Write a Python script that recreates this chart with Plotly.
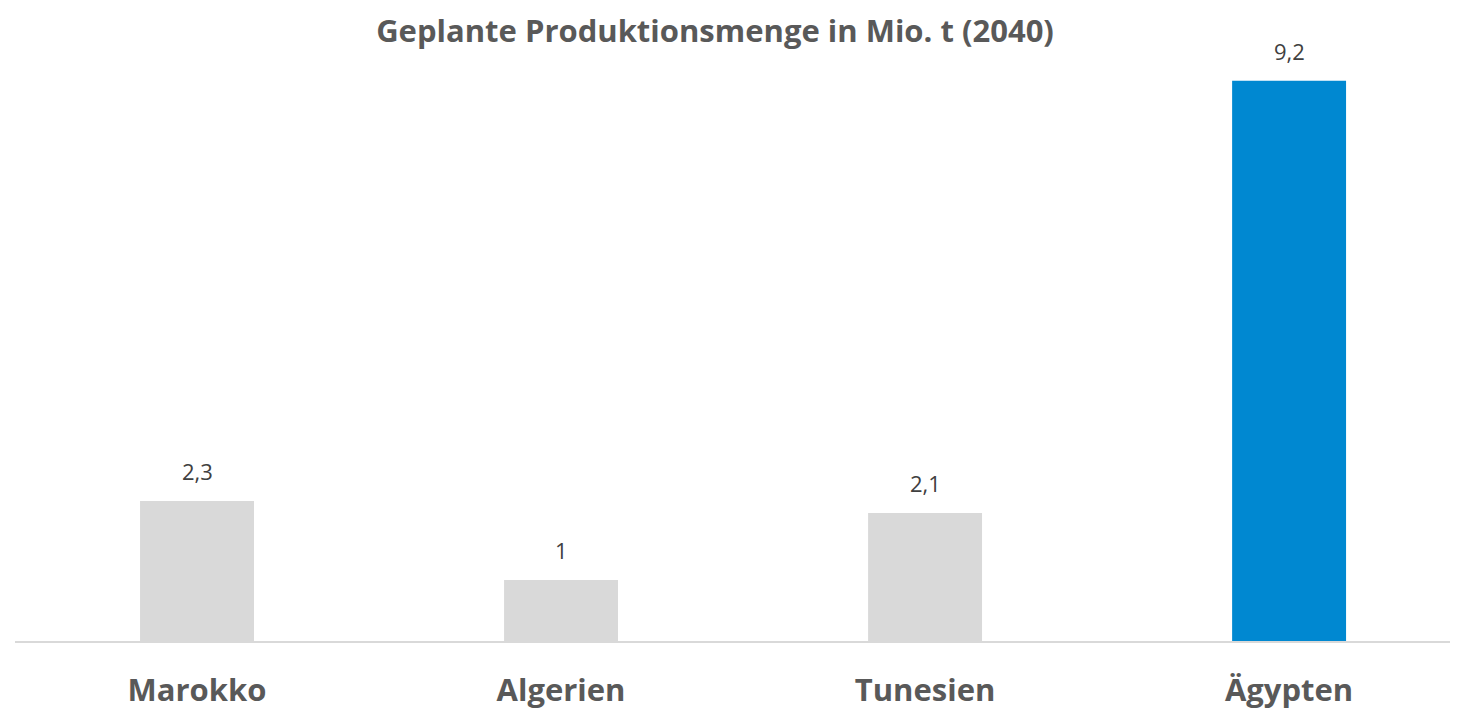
import plotly.graph_objects as go

categories = ["Marokko", "Algerien", "Tunesien", "Ägypten"]
values = [2.3, 1, 2.1, 9.2]
labels = ["2,3", "1", "2,1", "9,2"]
bar_colors = ["#d9d9d9", "#d9d9d9", "#d9d9d9", "#0088d1"]

fig = go.Figure()
fig.add_trace(go.Bar(
    x=categories, y=values, marker=dict(color=bar_colors, line=dict(width=0)),
    hoverinfo="skip",
))
for c, v, t in zip(categories, values, labels):
    fig.add_annotation(x=c, y=v, text=t, showarrow=False, yanchor="bottom",
                       yshift=13, font=dict(family="Open Sans", size=22, color="#404040"))

fig.update_layout(
    width=1450, height=702,
    paper_bgcolor="white", plot_bgcolor="white",
    margin=dict(l=7, r=0, t=24, b=69),
    bargap=0.687,
    showlegend=False,
    title=dict(text="<b>Geplante Produktionsmenge in Mio. t (2040)</b>",
               x=0.4876, xanchor="center", y=0.967, yanchor="middle",
               font=dict(family="Open Sans", size=31, color="#595959")),
    xaxis=dict(range=[-0.5, 3.464], showline=True, linecolor="#d9d9d9", linewidth=2,
               ticks="", showgrid=False, zeroline=False,
               tickfont=dict(family="Open Sans", size=31, color="#595959", weight="bold")),
    yaxis=dict(range=[0, 10], visible=False, showgrid=False, zeroline=False),
    font=dict(family="Open Sans"),
)
fig.update_xaxes(ticklabelstandoff=21)
fig.write_html("out.html")
